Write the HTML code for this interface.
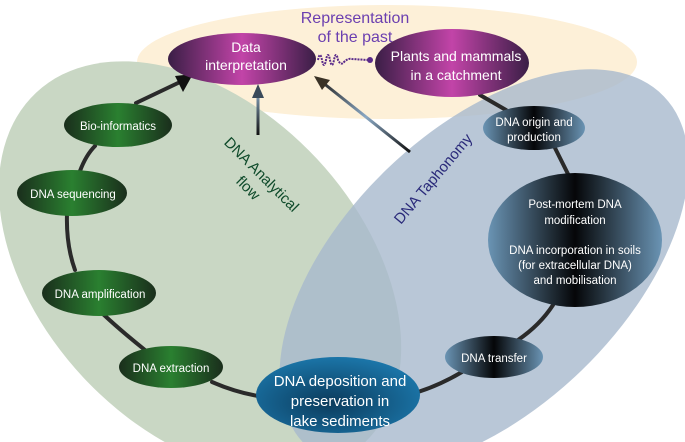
<!DOCTYPE html>
<html><head><meta charset="utf-8"><style>
html,body{margin:0;padding:0;background:#fff;width:685px;height:442px;overflow:hidden;}
svg{display:block;font-family:"Liberation Sans",sans-serif;}
</style></head><body>
<svg width="685" height="442" viewBox="0 0 685 442" xmlns="http://www.w3.org/2000/svg">
<defs>
<linearGradient id="pur" x1="0" x2="1" y1="0" y2="0">
<stop offset="0" stop-color="#3a1e46"/><stop offset="0.5" stop-color="#c244a8"/><stop offset="1" stop-color="#3a1e46"/></linearGradient>
<linearGradient id="grn" x1="0" x2="1" y1="0" y2="0">
<stop offset="0" stop-color="#1a2e1c"/><stop offset="0.5" stop-color="#2a8030"/><stop offset="1" stop-color="#1a2e1c"/></linearGradient>
<linearGradient id="blk" x1="0" x2="1" y1="0" y2="0">
<stop offset="0" stop-color="#6a94b4"/><stop offset="0.5" stop-color="#050608"/><stop offset="1" stop-color="#6a94b4"/></linearGradient>
<radialGradient id="dep" cx="0.45" cy="0.6" r="0.6">
<stop offset="0" stop-color="#0b3b5c"/><stop offset="1" stop-color="#1b75a8"/></radialGradient>
<linearGradient id="arr" gradientUnits="userSpaceOnUse" x1="258" x2="258" y1="90" y2="135">
<stop offset="0" stop-color="#8aa8c4"/><stop offset="1" stop-color="#111"/></linearGradient>
<linearGradient id="arr2" gradientUnits="userSpaceOnUse" x1="410" y1="152" x2="322" y2="82">
<stop offset="0" stop-color="#111"/><stop offset="0.5" stop-color="#8aa8c4"/><stop offset="1" stop-color="#2a2a2a"/></linearGradient>
</defs>
<ellipse cx="387" cy="62" rx="250" ry="57" fill="#fdf0d8"/>
<ellipse cx="200" cy="268" rx="240" ry="160" transform="rotate(47 200 268)" fill="#c9d7c4"/>
<ellipse cx="484" cy="270" rx="250" ry="140" transform="rotate(-44 484 270)" fill="#a7b9cd" fill-opacity="0.8"/>
<g stroke="#2a2a2a" stroke-width="4" fill="none" stroke-linecap="round">
<path d="M480 95 L506 110"/>
<path d="M555 148 L568 174"/>
<path d="M553 305 Q540 325 518 340"/>
<path d="M462 372 Q440 385 418 392"/>
<path d="M258 396 Q235 392 212 382"/>
<path d="M145 350 Q120 330 103 314"/>
<path d="M75 270 Q66 245 67 214"/>
<path d="M80 171 Q86 155 95 146"/>
<path d="M136 103 L178 83"/>
</g>
<polygon points="193,74 175,76 183,92" fill="#111"/>
<line x1="258" y1="135" x2="258" y2="95" stroke="url(#arr)" stroke-width="3"/>
<polygon points="258,84 252,98 264,98" fill="#3a4a5a"/>
<line x1="410" y1="152" x2="322" y2="82" stroke="url(#arr2)" stroke-width="3"/>
<polygon points="314,76 330,80 322,90" fill="#3a3226"/>
<path d="M318 60 q2 -10 4 0 t4 0 t4 0 t4 0 t4 0 q3 6 6 2 q4 -4 8 -3 L368 60" fill="none" stroke="#5a2a8a" stroke-width="2" stroke-dasharray="2 1"/>
<circle cx="370" cy="60" r="3" fill="#5a2a8a"/>
<text x="355" y="23" font-size="16" fill="#6b3fb0" text-anchor="middle">Representation</text>
<text x="355" y="42" font-size="16" fill="#6b3fb0" text-anchor="middle">of the past</text>
<ellipse cx="242" cy="59" rx="74" ry="26" fill="url(#pur)"/>
<text x="246" y="52" font-size="14" fill="#fff" text-anchor="middle">Data</text>
<text x="246" y="70" font-size="14" fill="#fff" text-anchor="middle">interpretation</text>
<ellipse cx="452" cy="63" rx="77" ry="34" fill="url(#pur)"/>
<text x="456" y="61" font-size="14" fill="#fff" text-anchor="middle">Plants and mammals</text>
<text x="456" y="80" font-size="14" fill="#fff" text-anchor="middle">in a catchment</text>
<g font-size="11.5" fill="#fff" text-anchor="middle">
<ellipse cx="118" cy="125" rx="54" ry="22" fill="url(#grn)"/><text x="118" y="130">Bio-informatics</text>
<ellipse cx="72" cy="193" rx="55" ry="23" fill="url(#grn)"/><text x="73" y="198">DNA sequencing</text>
<ellipse cx="99" cy="293" rx="57" ry="23" fill="url(#grn)"/><text x="100" y="298">DNA amplification</text>
<ellipse cx="171" cy="367" rx="52" ry="21" fill="url(#grn)"/><text x="171" y="372">DNA extraction</text>
<ellipse cx="534" cy="128" rx="51" ry="22" fill="url(#blk)"/><text x="534" y="126">DNA origin and</text><text x="534" y="141">production</text>
<ellipse cx="575" cy="240" rx="87" ry="67" fill="url(#blk)"/>
<text x="575" y="208">Post-mortem DNA</text><text x="575" y="224">modification</text>
<text x="575" y="254">DNA incorporation in soils</text><text x="575" y="269">(for extracellular DNA)</text><text x="575" y="284">and mobilisation</text>
<ellipse cx="494" cy="357" rx="49" ry="21" fill="url(#blk)"/><text x="494" y="362">DNA transfer</text>
</g>
<ellipse cx="338" cy="395" rx="82" ry="38" fill="url(#dep)"/>
<g font-size="15" fill="#fff" text-anchor="middle">
<text x="340" y="386">DNA deposition and</text><text x="340" y="406">preservation in</text><text x="340" y="426">lake sediments</text>
</g>
<g transform="translate(258,178) rotate(45)" font-size="15" fill="#0e4a2a" text-anchor="middle">
<text x="0" y="0">DNA Analytical</text><text x="0" y="19">flow</text></g>
<text transform="translate(437,182) rotate(-50)" font-size="15" fill="#2a2a7a" text-anchor="middle">DNA Taphonomy</text>
</svg>
</body></html>
